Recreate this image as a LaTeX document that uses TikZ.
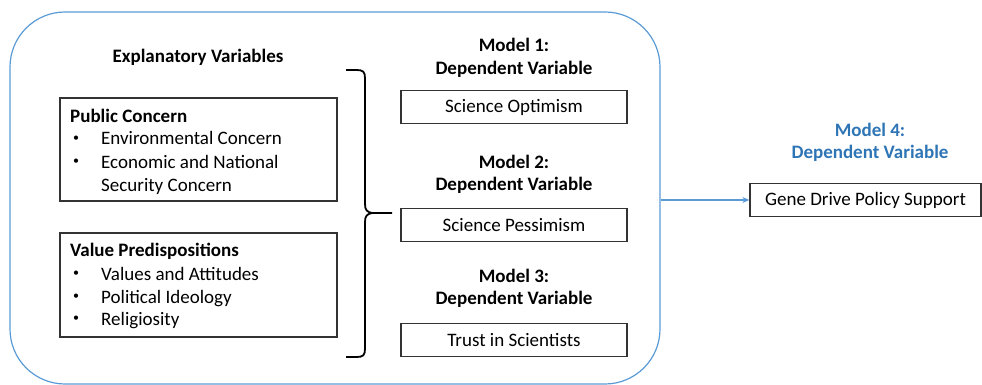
\documentclass[tikz,border=0pt]{standalone}
\usepackage{fontspec}
\setmainfont{Carlito}
\usetikzlibrary{arrows.meta}
\definecolor{frameblue}{RGB}{91,155,213}
\definecolor{modelblue}{RGB}{46,117,182}
\begin{document}
\begin{tikzpicture}[x=1pt,y=-1pt,
    every node/.style={font=\fontsize{19}{22.5}\selectfont, inner sep=0pt},
    head/.style={font=\fontsize{19}{22.5}\selectfont\bfseries},
    box/.style={draw=black!80, line width=1.3pt, minimum height=33pt},
    item/.style={anchor=base west},
    dot/.style={font=\fontsize{12}{12}\selectfont}]
  \useasboundingbox (0,0) rectangle (982,385);
  \node[draw=frameblue, line width=1.2pt, rounded corners=55pt,
        minimum width=650pt, minimum height=372pt] (frame) at (335,198) {};
  \node[head] (expl) at (198,57) {Explanatory Variables};
  \node[box, minimum width=277pt, minimum height=103pt] (pc) at (198.5,149.5) {};
  \node[box, minimum width=277pt, minimum height=104pt] (vp) at (198.5,285) {};
  \node[head, item] (pch) at (70,123) {Public Concern};
  \node[dot] (pcb1) at (76,139) {\textbullet};
  \node[item] (pc1) at (101,145) {Environmental Concern};
  \node[dot] (pcb2) at (76,162) {\textbullet};
  \node[item] (pc2) at (101,168) {Economic and National};
  \node[item] (pc3) at (101,191) {Security Concern};
  \node[head, item] (vph) at (70,256) {Value Predispositions};
  \node[dot] (vpb1) at (76,274) {\textbullet};
  \node[item] (vp1) at (101,280) {Values and Attitudes};
  \node[dot] (vpb2) at (76,297) {\textbullet};
  \node[item] (vp2) at (101,303) {Political Ideology};
  \node[dot] (vpb3) at (76,319) {\textbullet};
  \node[item] (vp3) at (101,325) {Religiosity};
  \node[head, align=center] (m1) at (514,58) {Model 1:\\Dependent Variable};
  \node[box, minimum width=226pt] (so) at (514,107) {Science Optimism};
  \node[head, align=center] (m2) at (514,174.5) {Model 2:\\Dependent Variable};
  \node[box, minimum width=226pt] (sp) at (514,225) {Science Pessimism};
  \node[head, align=center] (m3) at (514,288.5) {Model 3:\\Dependent Variable};
  \node[box, minimum width=226pt] (ts) at (514,340) {Trust in Scientists};
  \node[head, text=modelblue, align=center] (m4) at (870,142.5) {Model 4:\\Dependent Variable};
  \node[box, minimum width=231pt] (gd) at (865.5,200) {Gene Drive Policy Support};
  \coordinate (tip) at (392,213);
  \draw[line width=1.8pt]
    (346,70) -- (357,70) .. controls (363,70) and (365,72) .. (365,78)
    -- (365,204) .. controls (365,210) and (367,212) .. (372,213) -- (tip);
  \draw[line width=1.8pt]
    (372,213) .. controls (367,214) and (365,216) .. (365,222)
    -- (365,349) .. controls (365,355) and (363,357) .. (357,357) -- (346,357);
  \draw[frameblue, line width=1.2pt, -{Stealth[length=7pt,width=6pt]}]
    (frame.east |- gd.west) -- (gd.west);
\end{tikzpicture}
\end{document}
